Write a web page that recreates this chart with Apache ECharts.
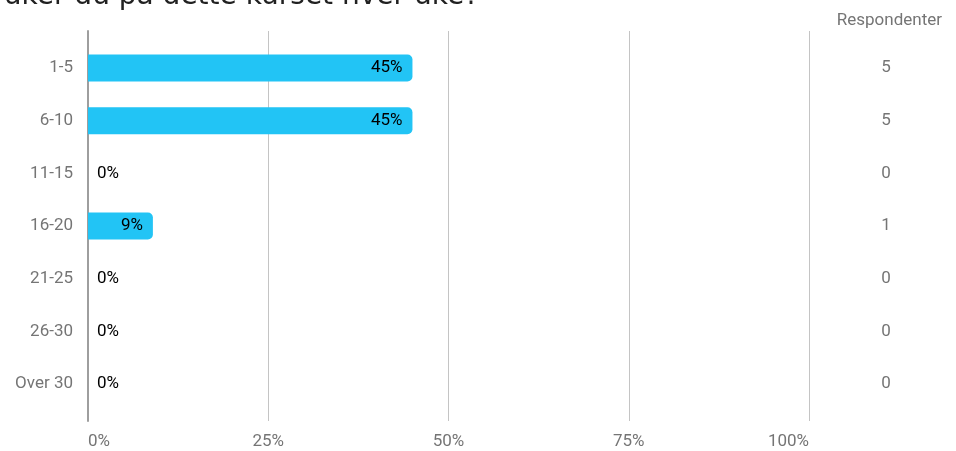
<!DOCTYPE html>
<html>
<head>
<meta charset="utf-8">
<script src="https://cdn.jsdelivr.net/npm/echarts@6/dist/echarts.min.js"></script>
<style>html,body{margin:0;padding:0;background:#fff}#c{width:956px;height:451px}</style>
</head>
<body>
<div id="c"></div>
<script>
var titleText = 'Hvor mange timer bruker du på dette kurset hver uke?';
var categories = ['1-5', '6-10', '11-15', '16-20', '21-25', '26-30', 'Over 30'];
var percentages = [45, 45, 0, 9, 0, 0, 0];
var respondents = [5, 5, 0, 1, 0, 0, 0];
var xTicks = [0, 25, 50, 75, 100];

var chart = echarts.init(document.getElementById('c'));
var gray = '#757575';
var font = 'Roboto';
var fs = 17;
chart.setOption({
  animation: false,
  graphic: [
    { type: 'text', style: { text: titleText, x: 479, y: 11, align: 'right', verticalAlign: 'bottom', font: '28px "DejaVu Sans"', fill: '#212121' } },
    { type: 'text', style: { text: 'Respondenter', x: 942, y: 21, align: 'right', verticalAlign: 'middle', font: fs + 'px Roboto', fill: gray } }
  ],
  grid: [
    { left: 88, width: 721, top: 41.7, height: 368.6, containLabel: false },
    { left: 88, width: 721, top: 31, height: 390, containLabel: false }
  ],
  xAxis: [
    { gridIndex: 0, type: 'value', min: 0, max: 100, show: false },
    { gridIndex: 1, type: 'value', min: 0, max: 100, interval: 25,
      axisLine: { show: false }, axisTick: { show: false },
      splitLine: { show: true, lineStyle: { color: '#c4c4c4', width: 1 } },
      axisLabel: { formatter: function (v) { return xTicks.indexOf(v) >= 0 ? v + '%' : ''; }, color: gray, fontFamily: font, fontSize: fs, margin: 12, alignMinLabel: 'left', alignMaxLabel: 'right' } }
  ],
  yAxis: [
    { gridIndex: 0, type: 'category', data: categories, inverse: true,
      axisLine: { show: false }, axisTick: { show: false },
      axisLabel: { color: gray, fontFamily: font, fontSize: fs, margin: 15 } },
    { gridIndex: 0, type: 'category', data: respondents.map(String), inverse: true, position: 'right',
      axisLine: { show: false }, axisTick: { show: false },
      axisLabel: { color: gray, fontFamily: font, fontSize: fs, margin: 77, align: 'center' } },
    { gridIndex: 1, type: 'value', min: 0, max: 1, axisLabel: { show: false }, splitLine: { show: false }, axisTick: { show: false },
      axisLine: { show: true, lineStyle: { color: '#9e9e9e', width: 2 } } }
  ],
  series: [{
    type: 'bar', xAxisIndex: 0, yAxisIndex: 0, barWidth: 27,
    itemStyle: { color: '#22c4f5', borderRadius: [0, 5, 5, 0] },
    label: { show: true, position: 'insideRight', distance: 10, formatter: '{c}%', color: '#000', fontFamily: font, fontSize: fs },
    data: percentages.map(function (v) {
      return v > 0 ? { value: v } : { value: v, label: { position: 'right', distance: 9 } };
    })
  }]
});
</script>
</body>
</html>
